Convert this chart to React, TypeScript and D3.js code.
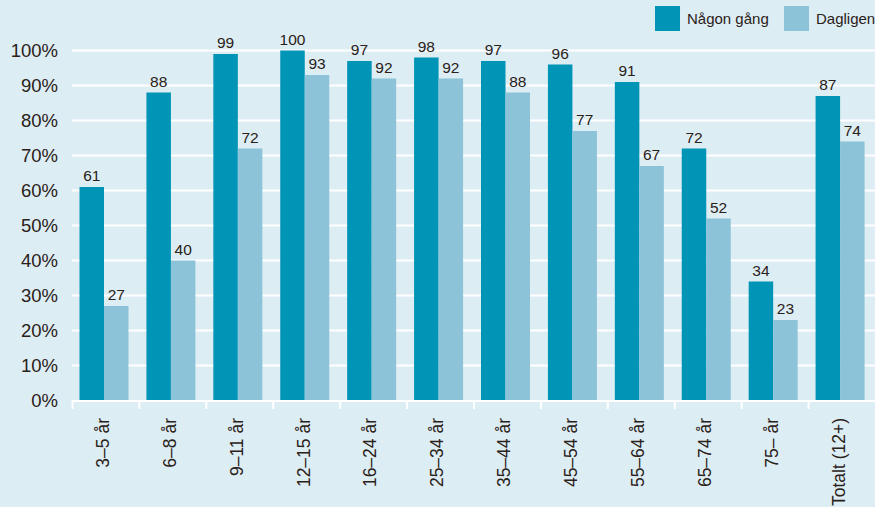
import React from "react";
import * as d3 from "d3";

const categories = ["3–5 år", "6–8 år", "9–11 år", "12–15 år", "16–24 år", "25–34 år", "35–44 år", "45–54 år", "55–64 år", "65–74 år", "75– år", "Totalt (12+)"];
const nagonGang = [61, 88, 99, 100, 97, 98, 97, 96, 91, 72, 34, 87];
const dagligen = [27, 40, 72, 93, 92, 92, 88, 77, 67, 52, 23, 74];
const seriesNames = ["Någon gång", "Dagligen"];
const yTicks = [0, 10, 20, 30, 40, 50, 60, 70, 80, 90, 100];

const W = 875;
const H = 507;
const BG = "#ddedf4";
const DARK = "#0094b6";
const LIGHT = "#8cc3d8";
const TEXT = "#2a2118";
const FONT = "'Liberation Sans', Arial, Helvetica, sans-serif";

export default function App() {
  const x = d3.scaleBand<string>().domain(categories).range([72, 875]).padding(0);
  const inner = d3.scaleBand<string>().domain(seriesNames).range([7.5, 56.5]).padding(0);
  const y = d3.scaleLinear().domain([0, 100]).range([400.5, 50.5]);
  const colors = [DARK, LIGHT];
  const series = [nagonGang, dagligen];

  return (
    <svg width={W} height={H} style={{ position: "absolute", left: 0, top: 0, display: "block" }} fontFamily={FONT}>
      <rect x={0} y={0} width={W} height={H} fill={BG} />
      {yTicks.map((t) => (
        <g key={t}>
          {t > 0 && <line x1={72} x2={875} y1={y(t)} y2={y(t)} stroke="#ffffff" strokeWidth={2} />}
          <text x={58} y={y(t)} dy="0.36em" textAnchor="end" fontSize={18.5} fill={TEXT}>{t}%</text>
        </g>
      ))}
      {categories.map((c, i) => (
        <g key={c} transform={`translate(${x(c)},0)`}>
          {series.map((s, j) => {
            const bx = inner(seriesNames[j])!;
            const bw = inner.bandwidth();
            return (
              <g key={j}>
                <rect x={bx} y={y(s[i])} width={bw} height={y(0) - y(s[i])} fill={colors[j]} />
                <text x={bx + bw / 2} y={y(s[i]) - 6} textAnchor="middle" fontSize={15.5} fill={TEXT}>{s[i]}</text>
              </g>
            );
          })}
        </g>
      ))}
      <line x1={72} x2={875} y1={401} y2={401} stroke="#ffffff" strokeWidth={2} />
      {categories.map((c) => (
        <line key={"t" + c} x1={x(c)! + 0.5} x2={x(c)! + 0.5} y1={401} y2={409} stroke="#ffffff" strokeWidth={2} />
      ))}
      {categories.map((c) => {
        const cx = x(c)! + x.bandwidth() / 2 - 3;
        return (
          <text key={"l" + c} transform={`translate(${cx},418) rotate(-90)`} textAnchor="end" dy="0.36em" fontSize={17.5} fill={TEXT}>{c}</text>
        );
      })}
      {seriesNames.map((n, j) => {
        const lx = [655, 784][j];
        return (
          <g key={n}>
            <rect x={lx} y={6} width={25} height={25} fill={colors[j]} />
            <text x={lx + 32} y={24} fontSize={15} fill={TEXT}>{n}</text>
          </g>
        );
      })}
    </svg>
  );
}
